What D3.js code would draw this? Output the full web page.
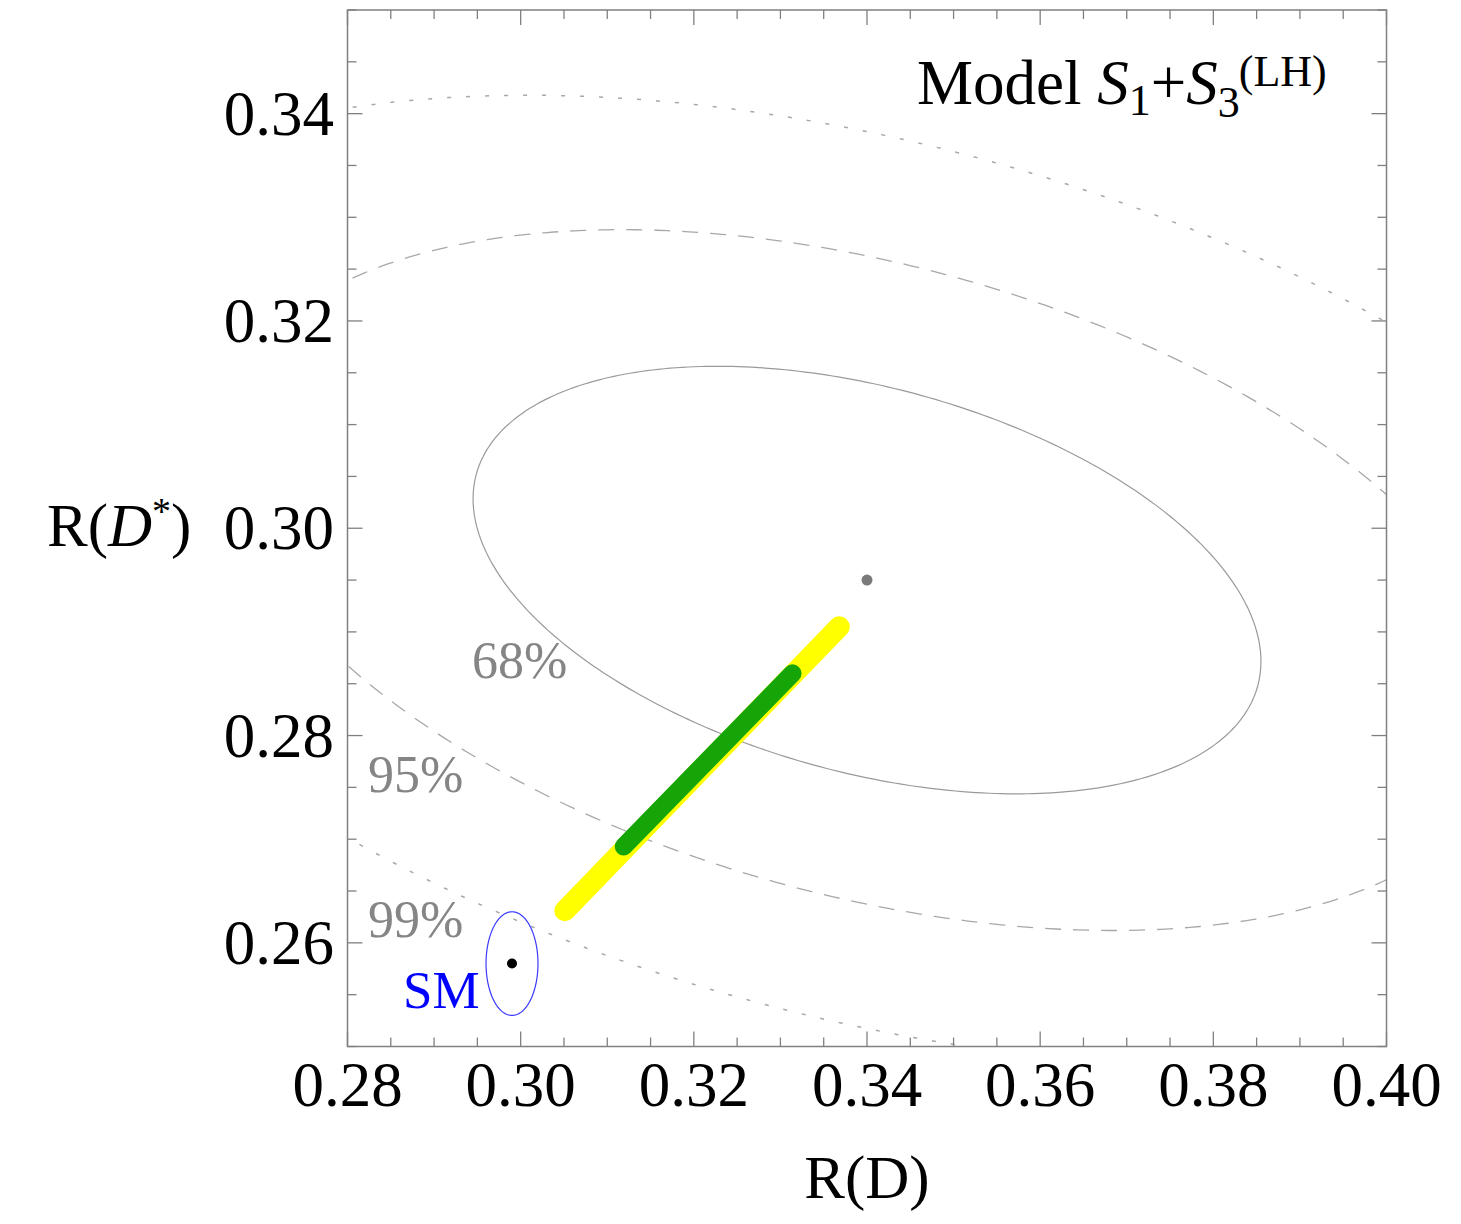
<!DOCTYPE html>
<html>
<head>
<meta charset="utf-8">
<script src="https://cdn.jsdelivr.net/npm/d3@7"></script>
<style>
  html, body { margin: 0; padding: 0; background: #fff; }
  svg { display: block; }
  text { font-family: "Liberation Serif", "DejaVu Serif", serif; }
</style>
</head>
<body>
<svg id="chart" width="1461" height="1224"></svg>
<script>
// Axis ranges and tick labels
const xDomain = [0.28, 0.40];
const yDomain = [0.25, 0.35];
const xTickValues = [0.28, 0.30, 0.32, 0.34, 0.36, 0.38, 0.40];
const yTickValues = [0.26, 0.28, 0.30, 0.32, 0.34];
const tickFormat = d3.format(".2f");

// Experimental world average: R(D), R(D*), uncertainties and correlation
const expCentral = [0.340, 0.295];
const expSigma = [0.030, 0.0136];
const expRho = -0.38;
// Δχ² levels for the drawn contours and their labels
const contourLevels = [2.30, 6.18, 11.83];
const contourLabels = ["68%", "95%", "99%"];

// Standard Model prediction
const smCentral = [0.299, 0.258];
const smSigma = [0.003, 0.005];

// Model scan: allowed region (yellow) and best-fit region (green)
const scanYellow = [[0.3051, 0.2631], [0.3368, 0.2905]];
const scanGreen = [[0.3119, 0.2693], [0.3314, 0.2860]];

// ---------------------------------------------------------------
const svg = d3.select("#chart");
const plot = { left: 347.5, right: 1386.5, top: 10, bottom: 1046.5 };

const x = d3.scaleLinear().domain(xDomain).range([plot.left, plot.right]);
const y = d3.scaleLinear().domain(yDomain).range([plot.bottom, plot.top]);

svg.append("defs").append("clipPath").attr("id", "plotClip")
  .append("rect")
  .attr("x", plot.left).attr("y", plot.top)
  .attr("width", plot.right - plot.left).attr("height", plot.bottom - plot.top);

const inner = svg.append("g").attr("clip-path", "url(#plotClip)");

// Gaussian contour for a given Δχ²
function ellipsePoints(c, s, rho, k, n = 360) {
  const r = Math.sqrt(k);
  const pts = [];
  for (let i = 0; i <= n; i++) {
    const t = (i / n) * 2 * Math.PI;
    const u = Math.cos(t), v = Math.sin(t);
    pts.push([c[0] + s[0] * r * u, c[1] + s[1] * r * (rho * u + Math.sqrt(1 - rho * rho) * v)]);
  }
  return pts;
}

const line = d3.line().x(d => x(d[0])).y(d => y(d[1]));

const contourStyles = [
  { dash: null, color: "#9a9a9a", width: 1.2 },
  { dash: "16,12", color: "#a8a8a8", width: 1.3 },
  { dash: "4,15", color: "#a8a8a8", width: 1.5 }
];

contourLevels.forEach((k, i) => {
  inner.append("path")
    .attr("d", line(ellipsePoints(expCentral, expSigma, expRho, k)))
    .attr("fill", "none")
    .attr("stroke", contourStyles[i].color)
    .attr("stroke-width", contourStyles[i].width)
    .attr("stroke-dasharray", contourStyles[i].dash);
});

// SM 1σ ellipse
inner.append("path")
  .attr("d", line(ellipsePoints(smCentral, smSigma, 0, 1)))
  .attr("fill", "none")
  .attr("stroke", "#3a3aff")
  .attr("stroke-width", 1.2);

// Scan bands
inner.append("path")
  .attr("d", line(scanYellow))
  .attr("fill", "none")
  .attr("stroke", "#ffff00")
  .attr("stroke-width", 21)
  .attr("stroke-linecap", "round");

inner.append("path")
  .attr("d", line(scanGreen))
  .attr("fill", "none")
  .attr("stroke", "#16a507")
  .attr("stroke-width", 18)
  .attr("stroke-linecap", "round");

// Central points
inner.append("circle")
  .attr("cx", x(expCentral[0])).attr("cy", y(expCentral[1]))
  .attr("r", 5.5).attr("fill", "#7a7a7a");
inner.append("circle")
  .attr("cx", x(smCentral[0])).attr("cy", y(smCentral[1]))
  .attr("r", 5).attr("fill", "#000");

// Contour labels
const labelAnchors = [[0.29438, 0.28555], [0.28237, 0.27456], [0.28237, 0.26057]];
contourLabels.forEach((t, i) => {
  svg.append("text")
    .attr("x", x(labelAnchors[i][0]))
    .attr("y", y(labelAnchors[i][1]))
    .attr("font-size", 52)
    .attr("fill", "#858585")
    .text(t);
});

svg.append("text")
  .attr("x", x(0.28641)).attr("y", y(0.25371))
  .attr("font-size", 53)
  .attr("fill", "#0000ff")
  .text("SM");

// Axes: ticks on all four sides, pointing inward
const axisColor = "#808080";
function minorTicks(domain, step) {
  const out = [];
  const n = Math.round((domain[1] - domain[0]) / step);
  for (let i = 0; i <= n; i++) out.push(+(domain[0] + i * step).toFixed(4));
  return out;
}
const xMinor = minorTicks(xDomain, 0.005);
const yMinor = minorTicks(yDomain, 0.005);
const isMajor = (v, majors) => majors.some(m => Math.abs(m - v) < 1e-6);

const frame = svg.append("g");
frame.append("rect")
  .attr("x", plot.left).attr("y", plot.top)
  .attr("width", plot.right - plot.left).attr("height", plot.bottom - plot.top)
  .attr("fill", "none").attr("stroke", axisColor).attr("stroke-width", 1.5);

xMinor.forEach(v => {
  const len = isMajor(v, xTickValues) ? 15 : 9;
  const px = x(v);
  frame.append("line").attr("x1", px).attr("x2", px)
    .attr("y1", plot.bottom).attr("y2", plot.bottom - len)
    .attr("stroke", axisColor).attr("stroke-width", 1.3);
  frame.append("line").attr("x1", px).attr("x2", px)
    .attr("y1", plot.top).attr("y2", plot.top + len)
    .attr("stroke", axisColor).attr("stroke-width", 1.3);
});
yMinor.forEach(v => {
  const len = isMajor(v, yTickValues) ? 15 : 9;
  const py = y(v);
  frame.append("line").attr("y1", py).attr("y2", py)
    .attr("x1", plot.left).attr("x2", plot.left + len)
    .attr("stroke", axisColor).attr("stroke-width", 1.3);
  frame.append("line").attr("y1", py).attr("y2", py)
    .attr("x1", plot.right).attr("x2", plot.right - len)
    .attr("stroke", axisColor).attr("stroke-width", 1.3);
});

// Tick labels
xTickValues.forEach(v => {
  svg.append("text")
    .attr("x", x(v)).attr("y", 1106)
    .attr("text-anchor", "middle")
    .attr("font-size", 63)
    .attr("fill", "#000")
    .text(tickFormat(v));
});
yTickValues.forEach(v => {
  svg.append("text")
    .attr("x", 334).attr("y", y(v) + 21)
    .attr("text-anchor", "end")
    .attr("font-size", 63)
    .attr("fill", "#000")
    .text(tickFormat(v));
});

// Axis titles
const xt = svg.append("text")
  .attr("x", x(0.34)).attr("y", 1198)
  .attr("text-anchor", "middle")
  .attr("font-size", 61);
xt.append("tspan").text("R(D)");

const yt = svg.append("text")
  .attr("x", 47).attr("y", 546)
  .attr("font-size", 61);
yt.append("tspan").text("R(");
yt.append("tspan").attr("font-style", "italic").text("D");
yt.append("tspan").attr("font-size", 38).attr("dy", -22).text("*");
yt.append("tspan").attr("dy", 22).text(")");

// Model title
const title = svg.append("text")
  .attr("x", 917).attr("y", 104)
  .attr("font-size", 63);
title.append("tspan").text("Model ");
title.append("tspan").attr("font-style", "italic").text("S");
title.append("tspan").attr("font-size", 44).attr("dy", 11).text("1");
title.append("tspan").attr("dy", -11).text("+");
title.append("tspan").attr("font-style", "italic").text("S");
title.append("tspan").attr("font-size", 44).attr("dy", 13).text("3");
title.append("tspan").attr("font-size", 44).attr("dy", -31).attr("dx", -1).text("(LH)");
</script>
</body>
</html>
